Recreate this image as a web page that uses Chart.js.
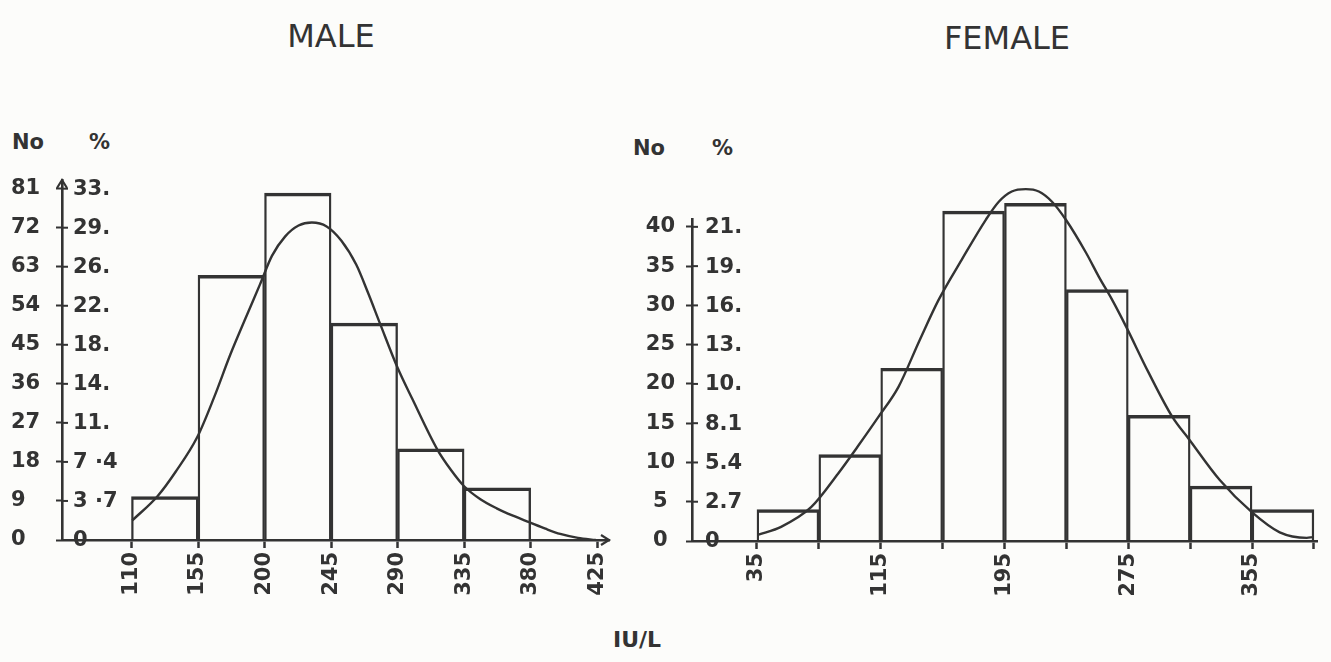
<!DOCTYPE html>
<html>
<head>
<meta charset="utf-8">
<script src="https://cdn.jsdelivr.net/npm/chart.js@4.4.1/dist/chart.umd.min.js"></script>
<style>
  html, body { margin: 0; padding: 0; background: #fcfcfa; }
  body { width: 1331px; height: 662px; position: relative; overflow: hidden;
         font-family: "DejaVu Sans", sans-serif; color: #333333; }
  .lbl { position: absolute; white-space: nowrap; line-height: 1; }
  .c { transform: translate(-50%, -50%); }
  .m { transform: translateY(-50%); }
  canvas { position: absolute; top: 0; }
</style>
</head>
<body>
<div class="lbl c" style="left:331px; top:36px; font-size:32px;">MALE</div>
<div class="lbl c" style="left:1007px; top:38px; font-size:32px;">FEMALE</div>
<div class="lbl m" style="left:12px; top:142px; font-size:21px; font-weight:bold;">No</div>
<div class="lbl m" style="left:89px; top:142px; font-size:21px; font-weight:bold;">%</div>
<div class="lbl m" style="left:633px; top:148px; font-size:21px; font-weight:bold;">No</div>
<div class="lbl m" style="left:712px; top:148px; font-size:21px; font-weight:bold;">%</div>
<div class="lbl c" style="left:637px; top:640px; font-size:22px; font-weight:bold;">IU/L</div>

<canvas id="male" width="640" height="662" style="left:0px;"></canvas>
<canvas id="female" width="711" height="662" style="left:620px;"></canvas>

<script>
// ---------- MALE data ----------
const maleBinEdges = [110, 155, 200, 245, 290, 335, 380];
const maleCounts = [10, 61, 80, 50, 21, 12];
const maleCurveX = [110.5, 127.6, 140, 154.6, 166, 176.8, 187, 197, 205, 214, 223, 232, 242, 252, 262, 270, 278, 290, 300, 317, 326, 335, 346, 357, 368, 379, 390, 400, 412, 424];
const maleCurveY = [4.5, 10.1, 15.8, 23.8, 33, 42.7, 51, 59, 65.5, 70, 72.5, 73.2, 72.3, 69, 63.5, 57, 50, 39.7, 32.5, 20.8, 16.2, 12.4, 9.4, 7.3, 5.6, 4.1, 2.6, 1.4, 0.5, 0];
const maleNoTicks = [0, 9, 18, 27, 36, 45, 54, 63, 72, 81];
const malePctLabels = ["0", "3 ·7", "7 ·4", "11.", "14.", "18.", "22.", "26.", "29.", "33."];
const maleXTicks = [110, 155, 200, 245, 290, 335, 380, 425];
const maleXLabels = ["110", "155", "200", "245", "290", "335", "380", "425"];

// ---------- FEMALE data ----------
const femaleBinEdges = [35, 75, 115, 155, 195, 235, 275, 315, 355, 395];
const femaleCounts = [4, 11, 22, 42, 43, 32, 16, 7, 4];
const femaleCurveX = [36, 50.6, 70, 87.5, 100, 113.5, 126.4, 140, 152.4, 167.3, 182.9, 191.3, 199.7, 208.8, 217.2, 225.7, 234.7, 247.7, 256.1, 264.6, 273.6, 288, 303.5, 314.5, 334, 354.7, 372.9, 390.4, 394];
const femaleCurveY = [0.8, 1.8, 4.3, 8.6, 12.0, 15.8, 19.6, 25.5, 30.7, 35.8, 40.9, 43.2, 44.5, 44.8, 44.5, 43.2, 40.9, 36.7, 33.6, 30.7, 27.3, 21.5, 15.8, 12.9, 7.8, 3.7, 1.1, 0.4, 0.5];
const femaleNoTicks = [0, 5, 10, 15, 20, 25, 30, 35, 40];
const femalePctLabels = ["0", "2.7", "5.4", "8.1", "10.", "13.", "16.", "19.", "21."];
const femaleXTicks = [35, 75, 115, 155, 195, 235, 275, 315, 355, 395];
const femaleXLabels = ["35", "", "115", "", "195", "", "275", "", "355", ""];

const INK = '#333333';
const FONT = { family: '"DejaVu Sans", sans-serif', size: 21, weight: 'bold' };

function overlay(pctLabels, noTicks, gap, arrows) {
  return {
    id: 'overlay',
    afterDraw(chart) {
      const ctx = chart.ctx, ys = chart.scales.y, area = chart.chartArea;
      const ax = area.left;
      ctx.save();
      ctx.strokeStyle = INK; ctx.fillStyle = INK; ctx.lineWidth = 2;
      ctx.font = 'bold 21px "DejaVu Sans", sans-serif';
      ctx.textAlign = 'left'; ctx.textBaseline = 'middle';
      noTicks.forEach((v, i) => {
        const py = ys.getPixelForValue(v);
        if (v !== 0) {
          ctx.beginPath(); ctx.moveTo(ax, py); ctx.lineTo(ax + 6, py); ctx.stroke();
        }
        ctx.fillText(pctLabels[i], ax + gap, py + 1);
      });
      if (arrows) {
        ctx.lineWidth = 2.2;
        ctx.beginPath();
        ctx.moveTo(ax - 5, area.top + 8); ctx.lineTo(ax, area.top); ctx.lineTo(ax + 5, area.top + 8);
        ctx.stroke();
        const r = area.right, b = area.bottom;
        ctx.beginPath();
        ctx.moveTo(r - 8, b - 5); ctx.lineTo(r, b); ctx.lineTo(r - 8, b + 5);
        ctx.stroke();
      }
      ctx.restore();
    }
  };
}

function makeChart(id, cfg) {
  const centers = cfg.edges.slice(0, -1).map((e, i) => (e + cfg.edges[i + 1]) / 2);
  const bars = cfg.counts.map((c, i) => ({ x: centers[i], y: c }));
  const curve = cfg.curveX.map((x, i) => ({ x: x, y: cfg.curveY[i] }));
  return new Chart(document.getElementById(id), {
    type: 'bar',
    data: {
      datasets: [
        {
          type: 'line', data: curve, borderColor: INK, borderWidth: 2.4,
          pointRadius: 0, fill: false, cubicInterpolationMode: 'monotone', order: 0, clip: false
        },
        {
          type: 'bar', data: bars, backgroundColor: 'rgba(0,0,0,0)', borderColor: INK,
          borderWidth: { top: 2.8, left: 1.7, right: 1.7, bottom: 0 }, borderSkipped: false,
          barPercentage: 1, categoryPercentage: 1, order: 1, clip: false
        }
      ]
    },
    options: {
      responsive: false, animation: false, devicePixelRatio: 1,
      layout: { padding: cfg.padding },
      plugins: { legend: { display: false }, tooltip: { enabled: false }, title: { display: false } },
      scales: {
        x: {
          type: 'linear', min: cfg.xMin, max: cfg.xMax, offset: false,
          border: { display: true, color: INK, width: 2.6 },
          grid: { display: true, offset: false, drawOnChartArea: false, drawTicks: true, tickLength: 8, tickWidth: 2.5, tickColor: INK },
          afterBuildTicks: s => { s.ticks = cfg.xTicks.map(v => ({ value: v })); },
          afterFit: s => { s.height = cfg.xAxisHeight; s.paddingLeft = 0; s.paddingRight = 0; },
          ticks: {
            autoSkip: false, minRotation: 90, maxRotation: 90, padding: 4,
            color: INK, font: FONT,
            callback: (v, i) => cfg.xLabels[i]
          }
        },
        y: {
          type: 'linear', min: 0, max: cfg.yMax,
          border: { display: true, color: INK, width: 2.6 },
          grid: { display: true, drawOnChartArea: false, drawTicks: true, tickLength: 6, tickWidth: 2, tickColor: INK },
          afterBuildTicks: s => { s.ticks = cfg.noTicks.map(v => ({ value: v })); },
          afterFit: s => { s.width = cfg.yAxisWidth; s.paddingTop = 0; s.paddingBottom = 0; },
          ticks: {
            autoSkip: false, color: INK, font: FONT, padding: cfg.yPad,
            crossAlign: cfg.crossAlign,
            callback: v => String(v)
          }
        }
      }
    },
    plugins: [overlay(cfg.pct, cfg.noTicks, cfg.pctGap, cfg.arrows)]
  });
}

makeChart('male', {
  edges: maleBinEdges, counts: maleCounts, curveX: maleCurveX, curveY: maleCurveY,
  xTicks: maleXTicks, xLabels: maleXLabels, noTicks: maleNoTicks, pct: malePctLabels,
  xMin: 63, xMax: 433, yMax: 83,
  padding: { left: 11, right: 31, top: 180, bottom: 0 },
  xAxisHeight: 122, yAxisWidth: 51, yPad: 8, crossAlign: 'far', pctGap: 11, arrows: true
});

makeChart('female', {
  edges: femaleBinEdges, counts: femaleCounts, curveX: femaleCurveX, curveY: femaleCurveY,
  xTicks: femaleXTicks, xLabels: femaleXLabels, noTicks: femaleNoTicks, pct: femalePctLabels,
  xMin: -7, xMax: 397, yMax: 41,
  padding: { left: 25, right: 14, top: 219, bottom: 0 },
  xAxisHeight: 121, yAxisWidth: 47, yPad: 11, crossAlign: 'center', pctGap: 13, arrows: false
});
</script>
</body>
</html>
